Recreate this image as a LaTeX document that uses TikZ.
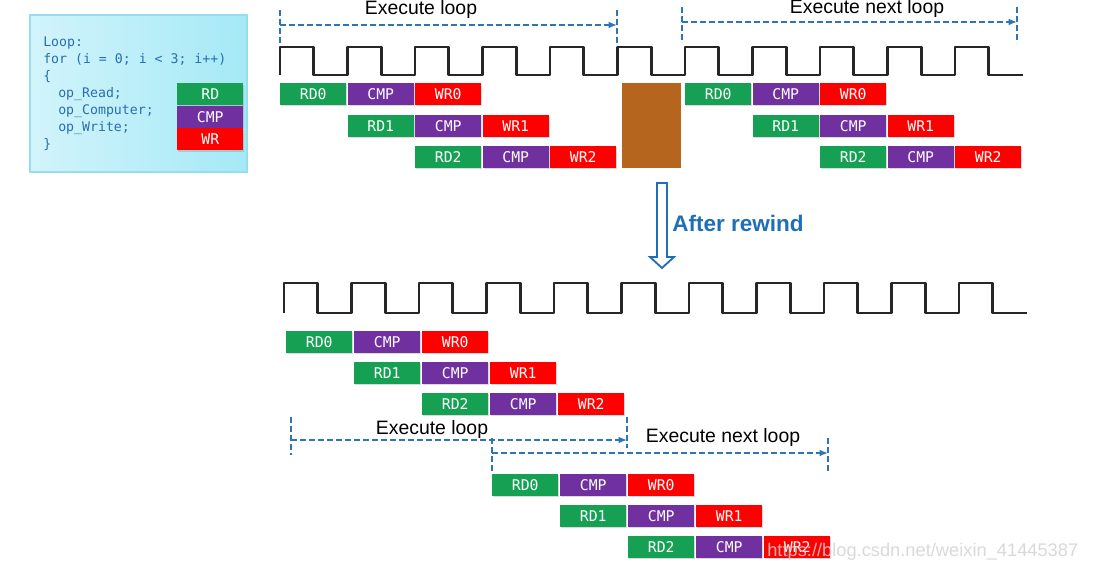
\documentclass[tikz,border=0pt]{standalone}
\usepackage{fontspec}
\setmainfont{Liberation Sans}
\setmonofont{DejaVu Sans Mono}
\usepackage{xcolor}
\usetikzlibrary{arrows.meta, shadows}

\definecolor{rdgreen}{RGB}{22,160,84}
\definecolor{cmppurple}{RGB}{112,48,160}
\definecolor{wrred}{RGB}{255,0,0}
\definecolor{stallbrown}{RGB}{181,101,29}
\definecolor{loopblue}{RGB}{46,117,182}
\definecolor{rewindblue}{RGB}{30,110,185}
\definecolor{codeblue}{RGB}{40,110,175}
\definecolor{boxleft}{RGB}{210,244,251}
\definecolor{boxright}{RGB}{165,233,246}
\definecolor{boxedge}{RGB}{150,222,238}

\begin{document}
\begin{tikzpicture}[
            x=0.025cm,
            y=-0.025cm,
            >={Latex[length=6pt,width=5pt]},
            blk/.style={anchor=west, minimum width=1.65cm, minimum height=0.55cm,
                inner sep=0pt, text=white, font=\ttfamily\fontsize{10.5}{12}\selectfont,
                drop shadow={shadow xshift=0.6pt, shadow yshift=-0.8pt, opacity=0.3}},
            rd/.style={blk, fill=rdgreen},
            cmp/.style={blk, fill=cmppurple},
            wr/.style={blk, fill=wrred},
            clk/.style={line width=1.8pt, draw=black!85, line join=round},
            span/.style={loopblue, line width=1.3pt, dash pattern=on 4pt off 2.4pt},
            looptext/.style={anchor=base, inner sep=0pt, font=\fontsize{13.8}{16}\selectfont},
            code/.style={anchor=base west, inner sep=0pt, text=codeblue,
                font=\ttfamily\fontsize{9.4}{11}\selectfont}
            ]

            \useasboundingbox (0,0) rectangle (1093,569);

            % 代码框
            \draw[draw=boxedge, line width=0.8pt, left color=boxleft, right color=boxright] (30,15) rectangle (247,172);
            \node[code] (code1) at (43,47) {Loop:};
            \node[code] (code2) at (43,64) {for (i = 0; i < 3; i++)};
            \node[code] (code3) at (43,81) {\{};
            \node[code] (code4) at (58,98) {op\_Read;};
            \node[code] (code5) at (58,115) {op\_Computer;};
            \node[code] (code6) at (58,132) {op\_Write;};
            \node[code] (code7) at (43,149) {\}};

            \node[rd] (keyrd) at (177,94.5) {RD};
            \node[cmp] (keycmp) at (177,117) {CMP};
            \node[wr] (keywr) at (177,139.5) {WR};

            % 时钟
            \draw[clk] (280,75) \foreach \k in {0,...,10} { -- ++(0,-28) -- ++(33.75,0) -- ++(0,28) -- ++(33.75,0) };
            \draw[clk] (284,313) \foreach \k in {0,...,10} { -- ++(0,-30) -- ++(33.75,0) -- ++(0,30) -- ++(33.75,0) };

            % 上: 第一次循环
            \node[rd] (trd0) at (280,94) {RD0};
            \node[cmp] (tcmp0) at (347.5,94) {CMP};
            \node[wr] (twr0) at (415,94) {WR0};

            \node[rd] (trd1) at (347.5,126) {RD1};
            \node[cmp] (tcmp1) at (415,126) {CMP};
            \node[wr] (twr1) at (482.5,126) {WR1};

            \node[rd] (trd2) at (415,157) {RD2};
            \node[cmp] (tcmp2) at (482.5,157) {CMP};
            \node[wr] (twr2) at (550,157) {WR2};

            % 停顿
            \node[fill=stallbrown, minimum width=1.475cm, minimum height=2.125cm, inner sep=0pt] (stall) at (651.5,125.5) {};

            % 上: 下一次循环
            \node[rd] (tnrd0) at (685,94) {RD0};
            \node[cmp] (tncmp0) at (752.5,94) {CMP};
            \node[wr] (tnwr0) at (820,94) {WR0};

            \node[rd] (tnrd1) at (752.5,126) {RD1};
            \node[cmp] (tncmp1) at (820,126) {CMP};
            \node[wr] (tnwr1) at (887.5,126) {WR1};

            \node[rd] (tnrd2) at (820,157) {RD2};
            \node[cmp] (tncmp2) at (887.5,157) {CMP};
            \node[wr] (tnwr2) at (955,157) {WR2};

            % 上: 循环范围
            \coordinate (tloopa) at (280,25);
            \coordinate (tloopb) at (617,25);
            \coordinate (tnexta) at (682,22);
            \coordinate (tnextb) at (1017,22);
            \draw[span] (280,10) -- (280,45);
            \draw[span] (617,10) -- (617,45);
            \draw[span] (682,7) -- (682,43);
            \draw[span] (1017,7) -- (1017,43);
            \draw[span, ->] (tloopa) -- (tloopb);
            \draw[span, ->] (tnexta) -- (tnextb);
            \node[looptext] (tlooptxt) at (421,15) {Execute loop};
            \node[looptext] (tnexttxt) at (867,14) {Execute next loop};

            % 箭头
            \draw[rewindblue, line width=1.3pt, fill=white, line join=miter]
                (657,183) -- (667,183) -- (667,257) -- (674,257) -- (662,268) -- (650,257) -- (657,257) -- cycle;
            \node[anchor=west, inner sep=0pt, text=rewindblue, font=\bfseries\fontsize{16}{18}\selectfont] (rewind) at (672,223) {After rewind};

            % 下: 第一次循环
            \node[rd] (brd0) at (286,342) {RD0};
            \node[cmp] (bcmp0) at (354,342) {CMP};
            \node[wr] (bwr0) at (422,342) {WR0};

            \node[rd] (brd1) at (354,373) {RD1};
            \node[cmp] (bcmp1) at (422,373) {CMP};
            \node[wr] (bwr1) at (490,373) {WR1};

            \node[rd] (brd2) at (422,404) {RD2};
            \node[cmp] (bcmp2) at (490,404) {CMP};
            \node[wr] (bwr2) at (558,404) {WR2};

            % 下: 下一次循环
            \node[rd] (bnrd0) at (492,485) {RD0};
            \node[cmp] (bncmp0) at (560,485) {CMP};
            \node[wr] (bnwr0) at (628,485) {WR0};

            \node[rd] (bnrd1) at (560,516) {RD1};
            \node[cmp] (bncmp1) at (628,516) {CMP};
            \node[wr] (bnwr1) at (696,516) {WR1};

            \node[rd] (bnrd2) at (628,547) {RD2};
            \node[cmp] (bncmp2) at (696,547) {CMP};
            \node[wr] (bnwr2) at (764,547) {WR2};

            % 下: 循环范围
            \coordinate (bloopa) at (291,440);
            \coordinate (bloopb) at (627,440);
            \coordinate (bnexta) at (492,453);
            \coordinate (bnextb) at (828,453);
            \draw[span] (291,417) -- (291,455);
            \draw[span] (627,417) -- (627,448);
            \draw[span] (492,438) -- (492,473);
            \draw[span] (828,438) -- (828,473);
            \draw[span, ->] (bloopa) -- (bloopb);
            \draw[span, ->] (bnexta) -- (bnextb);
            \node[looptext] (blooptxt) at (432,435) {Execute loop};
            \node[looptext] (bnexttxt) at (723,443) {Execute next loop};

            % 水印
            \node[anchor=base west, inner sep=0pt, text=gray!35, opacity=0.85, font=\fontsize{13}{15}\selectfont] (mark) at (767,557) {https://blog.csdn.net/weixin\_41445387};
        \end{tikzpicture}
\end{document}
